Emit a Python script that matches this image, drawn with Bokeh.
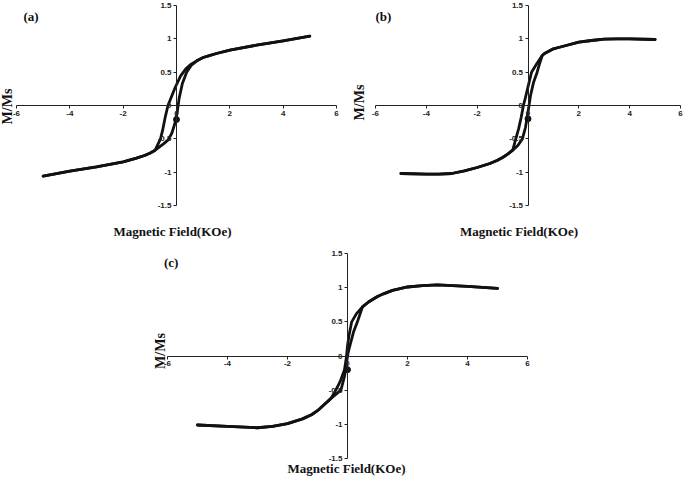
import math
from bokeh.plotting import figure
from bokeh.layouts import column, row
from bokeh.models import LinearAxis, FixedTicker, NumeralTickFormatter, Label, Spacer
from bokeh.embed import file_html
from bokeh.resources import INLINE

# ---- data ----
x_ticks = [-6, -4, -2, 0, 2, 4, 6]
y_ticks = [-1.5, -1, -0.5, 0, 0.5, 1, 1.5]

# panel (a): descending-field branch and ascending-field branch
a_down_x = [5, 4, 3, 2, 1.5, 1.2, 1, 0.8, 0.55, 0.35, 0.15, -0.05, -0.2, -0.32, -0.42, -0.52, -0.6, -0.8, -1, -1.2, -1.5, -2, -3, -4, -5]
a_down_y = [1.04, 0.97, 0.905, 0.83, 0.78, 0.745, 0.72, 0.68, 0.62, 0.55, 0.44, 0.27, 0.12, 0.0, -0.17, -0.37, -0.5, -0.67, -0.715, -0.75, -0.79, -0.845, -0.92, -0.985, -1.06]
a_up_x = [-5, -4, -3, -2, -1.5, -1.2, -1, -0.8, -0.5, -0.32, -0.18, -0.06, 0.03, 0.1, 0.22, 0.38, 0.55, 0.8, 1, 1.2, 1.5, 2, 3, 4, 5]
a_up_y = [-1.06, -0.985, -0.92, -0.845, -0.79, -0.75, -0.715, -0.67, -0.58, -0.52, -0.42, -0.27, -0.09, 0.11, 0.33, 0.5, 0.6, 0.68, 0.72, 0.745, 0.78, 0.83, 0.905, 0.97, 1.04]
a_dot_x = [0]
a_dot_y = [-0.21]

# panel (b)
b_down_x = [5, 4, 3.5, 3, 2.5, 2, 1.5, 1.2, 1, 0.8, 0.65, 0.56, 0.35, 0.14, 0.0, -0.1, -0.18, -0.27, -0.37, -0.48, -0.6, -0.8, -1, -1.2, -1.5, -2, -2.5, -3, -3.5, -4, -5]
b_down_y = [0.99, 1.0, 1.0, 0.995, 0.975, 0.95, 0.9, 0.87, 0.85, 0.81, 0.78, 0.75, 0.63, 0.5, 0.28, 0.12, 0.0, -0.18, -0.35, -0.5, -0.67, -0.73, -0.78, -0.82, -0.87, -0.93, -0.98, -1.02, -1.03, -1.03, -1.02]
b_up_x = [-5, -4, -3.5, -3, -2.5, -2, -1.5, -1.2, -1, -0.8, -0.6, -0.4, -0.22, -0.1, -0.02, 0.04, 0.1, 0.22, 0.36, 0.45, 0.56, 0.65, 0.8, 1, 1.2, 1.5, 2, 2.5, 3, 3.5, 4, 5]
b_up_y = [-1.02, -1.03, -1.03, -1.02, -0.98, -0.93, -0.87, -0.82, -0.78, -0.73, -0.67, -0.6, -0.5, -0.33, -0.15, 0.0, 0.15, 0.35, 0.5, 0.62, 0.75, 0.78, 0.81, 0.85, 0.87, 0.9, 0.95, 0.975, 0.995, 1.0, 1.0, 0.99]
b_dot_x = [0]
b_dot_y = [-0.2]

# panel (c)
c_down_x = [5, 4, 3, 2.5, 2, 1.5, 1.2, 1, 0.7, 0.5, 0.3, 0.14, 0.05, 0.0, -0.03, -0.1, -0.25, -0.39, -0.55, -0.7, -1, -1.2, -1.5, -2, -2.5, -3, -4, -5]
c_down_y = [0.99, 1.02, 1.04, 1.03, 1.01, 0.96, 0.91, 0.87, 0.79, 0.72, 0.62, 0.5, 0.3, 0.15, 0.0, -0.2, -0.38, -0.5, -0.62, -0.68, -0.8, -0.86, -0.92, -0.99, -1.03, -1.05, -1.03, -1.01]
c_up_x = [-5, -4, -3, -2.5, -2, -1.5, -1.2, -1, -0.7, -0.55, -0.22, -0.1, -0.03, 0.02, 0.08, 0.2, 0.33, 0.5, 0.7, 1, 1.2, 1.5, 2, 2.5, 3, 4, 5]
c_up_y = [-1.01, -1.03, -1.05, -1.03, -0.99, -0.92, -0.86, -0.8, -0.68, -0.62, -0.5, -0.3, -0.1, 0.05, 0.15, 0.35, 0.5, 0.72, 0.79, 0.87, 0.91, 0.96, 1.01, 1.03, 1.04, 1.02, 0.99]
c_dot_x = [0]
c_dot_y = [-0.2]

x_title = "Magnetic Field(KOe)"
y_title = "M/Ms"

TICK_FONT = "Liberation Sans"
TITLE_FONT = "Liberation Serif"
INK = "#111111"


def make_panel(tag, down_x, down_y, up_x, up_y, dot_x, dot_y,
               fw, fh, pl, pr, pt, pb,
               xt_dx, xt_dy, yt_dx, yt_dy, tag_dx, tag_dy):
    # fw, fh: pixel size of the -6..6 / -1.5..1.5 box; pl..pb: pixels around it.
    # The frame fills the whole figure so nothing is clipped.
    ux = 12.0 / fw
    uy = 3.0 / fh
    p = figure(width=pl + fw + pr, height=pt + fh + pb,
               x_range=(-6 - pl * ux, 6 + pr * ux),
               y_range=(-1.5 - pb * uy, 1.5 + pt * uy),
               x_axis_type=None, y_axis_type=None,
               output_backend="svg", toolbar_location=None,
               min_border_left=0, min_border_right=0,
               min_border_top=0, min_border_bottom=0)
    p.outline_line_color = None
    p.background_fill_color = "white"
    p.border_fill_color = "white"

    # axes crossing at the origin
    xa = LinearAxis(fixed_location=0, bounds=(-6, 6), ticker=FixedTicker(ticks=x_ticks),
                    formatter=NumeralTickFormatter(format="0"))
    ya = LinearAxis(fixed_location=0, bounds=(-1.5, 1.5), ticker=FixedTicker(ticks=y_ticks),
                    formatter=NumeralTickFormatter(format="0.[0]"))
    for ax in (xa, ya):
        ax.axis_line_color = "#222222"
        ax.axis_line_width = 1
        ax.major_tick_line_color = "#222222"
        ax.major_tick_out = 3
        ax.major_tick_in = 0
        ax.minor_tick_out = 0
        ax.minor_tick_in = 0
        ax.major_label_text_font = TICK_FONT
        ax.major_label_text_font_style = "bold"
        ax.major_label_text_font_size = "8px"
        ax.major_label_text_color = "#222222"
        ax.major_label_standoff = 2
    p.add_layout(xa, "below")
    p.add_layout(ya, "left")

    p.line(down_x, down_y, line_color=INK, line_width=2.8, line_join="round", line_cap="round")
    p.line(up_x, up_y, line_color=INK, line_width=2.8, line_join="round", line_cap="round")
    p.scatter(dot_x, dot_y, size=6, color=INK)

    p.add_layout(Label(x=0, y=-1.5, x_offset=xt_dx, y_offset=xt_dy, text=x_title,
                       text_font=TITLE_FONT, text_font_style="bold",
                       text_font_size="13px", text_align="center",
                       text_baseline="alphabetic", text_color=INK))
    p.add_layout(Label(x=-6, y=0, x_offset=yt_dx, y_offset=yt_dy, text=y_title,
                       angle=math.pi / 2,
                       text_font=TITLE_FONT, text_font_style="bold",
                       text_font_size="14px", text_align="center",
                       text_baseline="middle", text_color=INK))
    p.add_layout(Label(x=-6, y=1.5, x_offset=tag_dx, y_offset=tag_dy, text=tag,
                       text_font=TITLE_FONT, text_font_style="bold",
                       text_font_size="13px", text_baseline="top",
                       text_color=INK))
    return p


# (a): box x 16..336, y 5..205 ; figure spans x 0..348, y 0..240
pa = make_panel("(a)", a_down_x, a_down_y, a_up_x, a_up_y, a_dot_x, a_dot_y,
                fw=320, fh=200, pl=16, pr=12, pt=5, pb=35,
                xt_dx=-4, xt_dy=-26, yt_dx=-9.5, yt_dy=-1, tag_dx=7, tag_dy=-3.5)
# (b): box x 375..680, y 5..205 ; figure spans x 348..685
pb = make_panel("(b)", b_down_x, b_down_y, b_up_x, b_up_y, b_dot_x, b_dot_y,
                fw=305, fh=200, pl=27, pr=5, pt=5, pb=35,
                xt_dx=-9, xt_dy=-26, yt_dx=-16, yt_dy=3, tag_dx=0, tag_dy=-3.5)
# (c): box x 167..527, y 253..458 ; figure spans x 150..537, y 240..477
pc = make_panel("(c)", c_down_x, c_down_y, c_up_x, c_up_y, c_dot_x, c_dot_y,
                fw=360, fh=205, pl=17, pr=10, pt=13, pb=19,
                xt_dx=-1, xt_dy=-10, yt_dx=-7, yt_dy=5, tag_dx=-3.5, tag_dy=-1)

layout = column(row(pa, pb), row(Spacer(width=150, height=10), pc))

with open("out.html", "w") as f:
    f.write(file_html(layout, INLINE))
